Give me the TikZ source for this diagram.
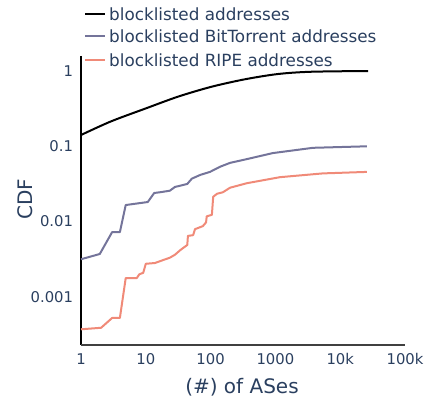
\documentclass[tikz,border=0pt]{standalone}
\usepackage{fontspec}
\setmainfont{DejaVu Sans}
\usetikzlibrary{calc}

\definecolor{labelblue}{HTML}{2A3F5F}
\definecolor{btpurple}{HTML}{74749A}
\definecolor{ripesalmon}{HTML}{F08A78}

\tikzset{
  curve/.style={line width=2pt, line join=round},
  ticklab/.style={text=labelblue, font=\fontsize{14.8}{18}\selectfont, inner sep=0pt},
  legtext/.style={text=labelblue, font=\fontsize{16.8}{19}\selectfont, inner sep=0pt, anchor=west},
  axtitle/.style={text=labelblue, font=\fontsize{20}{22}\selectfont, inner sep=0pt}
}

\begin{document}
\begin{tikzpicture}[x=1pt,y=-1pt]
\useasboundingbox (0,0) rectangle (428,402);

% legend
\coordinate (l1a) at (85,14);  \coordinate (l1b) at (105,14);
\coordinate (l2a) at (85,36);  \coordinate (l2b) at (105,36);
\coordinate (l3a) at (85,60);  \coordinate (l3b) at (105,60);
\draw[curve,black] (l1a)--(l1b);
\draw[curve,btpurple] (l2a)--(l2b);
\draw[curve,ripesalmon] (l3a)--(l3b);
\node[legtext] (leg1) at (109,14) {blocklisted addresses};
\node[legtext] (leg2) at (109,36) {blocklisted BitTorrent addresses};
\node[legtext] (leg3) at (109,60) {blocklisted RIPE addresses};

% axis titles
\node[axtitle] (xtitle) at (242,387) {(\#) of ASes};
\node[axtitle,rotate=90] (ytitle) at (25,199) {CDF};

% plot area, log-log: x = log10(ASes), y = log10(CDF)
\begin{scope}[shift={(81,71)}, x=64.8pt, y=75.3pt]
\coordinate (O) at (0,-3.64);
\coordinate (T) at (0,0.2);
\coordinate (E) at (5,-3.64);
\draw[black,line width=1.6pt] (T)--(O);
\draw[black!75,line width=1.6pt] (O)--(E);

\foreach \lx/\lab in {0/1,1/10,2/100,3/1000,4/10k,5/100k}
  \node[ticklab,anchor=north] (xt\lx) at (\lx,-3.75) {\lab};
\foreach \ly/\lab in {0/1,-1/0.1,-2/0.01,-3/0.001}
  \node[ticklab,anchor=east] (yt\lab) at (-0.12,\ly) {\lab};

% blocklisted addresses
\draw[curve,black] plot[smooth] coordinates {
  (0,-0.85) (0.46,-0.67) (0.99,-0.50) (1.50,-0.34) (2.01,-0.21)
  (2.53,-0.11) (3.04,-0.04) (3.55,-0.01) (4.43,0)};

% BitTorrent
\draw[curve,btpurple] (0,-2.50) -- (0.29,-2.43) -- (0.48,-2.14) -- (0.60,-2.14)
  -- (0.69,-1.78) -- (1.03,-1.74) -- (1.13,-1.62) -- (1.22,-1.61) -- (1.37,-1.59)
  -- (1.45,-1.54) -- (1.64,-1.50) -- (1.71,-1.43) -- (1.84,-1.38) -- (1.99,-1.34)
  -- (2.15,-1.27) -- (2.30,-1.22) -- (2.56,-1.17) -- (2.96,-1.09) -- (3.58,-1.02)
  -- (4.41,-1.00);

% RIPE
\draw[curve,ripesalmon] (0,-3.43) -- (0.31,-3.41) -- (0.48,-3.28) -- (0.60,-3.28)
  -- (0.69,-2.75) -- (0.86,-2.75) -- (0.90,-2.70) -- (0.96,-2.68) -- (1.00,-2.56)
  -- (1.14,-2.55) -- (1.27,-2.51) -- (1.37,-2.48) -- (1.45,-2.44) -- (1.53,-2.38)
  -- (1.64,-2.31) -- (1.65,-2.19) -- (1.73,-2.18) -- (1.76,-2.10) -- (1.88,-2.06)
  -- (1.93,-2.01) -- (1.94,-1.93) -- (2.02,-1.91) -- (2.04,-1.67) -- (2.10,-1.63)
  -- (2.19,-1.61) -- (2.30,-1.55) -- (2.56,-1.49) -- (3.07,-1.41) -- (3.73,-1.36)
  -- (4.41,-1.34);
\end{scope}
\end{tikzpicture}
\end{document}
